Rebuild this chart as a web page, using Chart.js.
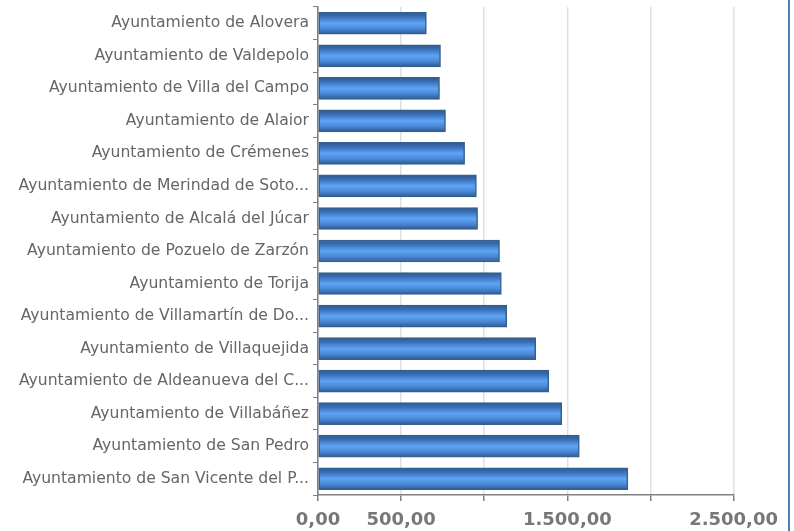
<!DOCTYPE html>
<html>
<head>
<meta charset="utf-8">
<script src="https://cdn.jsdelivr.net/npm/chart.js@4/dist/chart.umd.min.js"></script>
<style>
	html, body { margin: 0; padding: 0; background: #fff; }
	#wrap { width: 790px; height: 531px; position: relative; box-sizing: border-box; border-right: 2px solid #4a7ebb; }
</style>
</head>
<body>
<div id="wrap"><canvas id="bar-chart"></canvas></div>
<script>
const categories = [
	"Ayuntamiento de Alovera",
	"Ayuntamiento de Valdepolo",
	"Ayuntamiento de Villa del Campo",
	"Ayuntamiento de Alaior",
	"Ayuntamiento de Crémenes",
	"Ayuntamiento de Merindad de Soto...",
	"Ayuntamiento de Alcalá del Júcar",
	"Ayuntamiento de Pozuelo de Zarzón",
	"Ayuntamiento de Torija",
	"Ayuntamiento de Villamartín de Do...",
	"Ayuntamiento de Villaquejida",
	"Ayuntamiento de Aldeanueva del C...",
	"Ayuntamiento de Villabáñez",
	"Ayuntamiento de San Pedro",
	"Ayuntamiento de San Vicente del P..."
];

const values = [652, 737, 731, 767, 882, 953, 960, 1092, 1103, 1135, 1310, 1388, 1466, 1572, 1864];

const xTickValues = [0, 500, 1000, 1500, 2000, 2500];
const xTickLabels = ["0,00", "500,00", "", "1.500,00", "", "2.500,00"];

// vertical gradient per bar, dark edges and light middle
function barGradient(context) {
	const chart = context.chart;
	const yScale = chart.scales.y;
	if (!yScale || !chart.chartArea) return "#4f8ee0";
	const center = yScale.getPixelForValue(context.dataIndex);
	const top = center - 11;
	const bottom = center + 11;
	const g = chart.ctx.createLinearGradient(0, top, 0, bottom);
	g.addColorStop(0, "#2c5890");
	g.addColorStop(0.2, "#3a6eb4");
	g.addColorStop(0.5, "#5ea4f6");
	g.addColorStop(0.75, "#4a88d6");
	g.addColorStop(1, "#2c5890");
	return g;
}

const barContext = document.getElementById("bar-chart").getContext("2d");
const barChart = new Chart(barContext, {
	type: "bar",
	data: {
		labels: categories,
		datasets: [
			{
				data: values,
				backgroundColor: barGradient,
				borderColor: "#34608f",
				borderWidth: 1.5,
				borderSkipped: false,
				barThickness: 22
			}
		]
	},
	options: {
		indexAxis: "y",
		responsive: true,
		maintainAspectRatio: false,
		animation: false,
		layout: {
			padding: { top: 7, right: 24, bottom: 2, left: 0 }
		},
		plugins: {
			legend: { display: false },
			tooltip: { enabled: false }
		},
		scales: {
			x: {
				min: 0,
				max: 2500,
				afterBuildTicks: (scale) => {
					scale.ticks = xTickValues.map((v) => ({ value: v }));
				},
				afterFit: (scale) => {
					scale.height = 34;
				},
				grid: {
					color: "#e0e0e0",
					lineWidth: 1.5,
					drawTicks: true,
					tickColor: "#808080",
					tickLength: 6
				},
				border: { color: "#808080", width: 1.5 },
				ticks: {
					autoSkip: false,
					maxRotation: 0,
					padding: 10,
					color: "#777777",
					font: { family: "DejaVu Sans", size: 18, weight: "bold", lineHeight: 1 },
					callback: (value, index) => xTickLabels[index]
				}
			},
			y: {
				afterFit: (scale) => {
					scale.width = 318;
					scale.paddingTop = 0;
					scale.paddingBottom = 0;
				},
				grid: {
					display: true,
					drawOnChartArea: false,
					offset: true,
					tickColor: "#808080",
					tickLength: 5
				},
				border: { color: "#808080", width: 1.5 },
				ticks: {
					color: "#666666",
					padding: 4,
					font: { family: "DejaVu Sans", size: 15.6 }
				}
			}
		}
	}
});
</script>
</body>
</html>
